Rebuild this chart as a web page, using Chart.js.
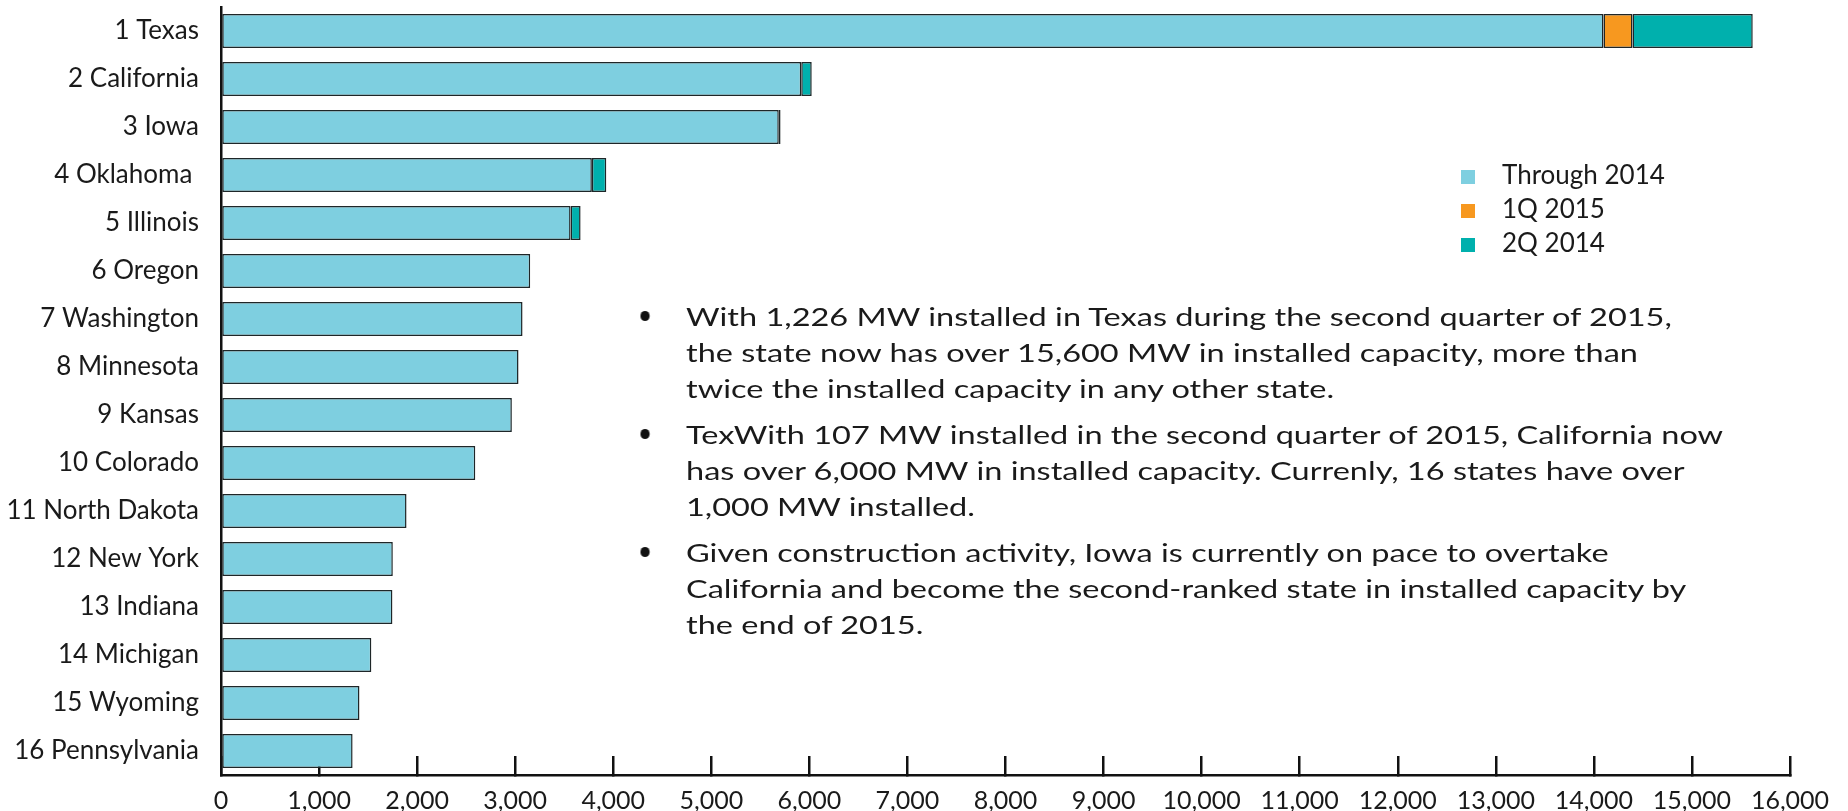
<!DOCTYPE html>
<html>
<head>
<meta charset="utf-8">
<title>Installed wind capacity by state</title>
<script src="https://cdn.jsdelivr.net/npm/chart.js@4/dist/chart.umd.min.js"></script>
<style>
  body { margin: 0; background: #fff; }
  #wrap { position: relative; width: 1848px; height: 811px; font-family: Lato, sans-serif; color: #1a1a1a; }
  #legend { position: absolute; left: 1461px; top: 157px; font-size: 26px; }
  #legend div { height: 34px; line-height: 34px; white-space: nowrap; }
  #legend span.box { display: inline-block; width: 14px; height: 14px; margin-right: 27px; vertical-align: 0px; }
  /* the note text in the source is a bit stretched sideways, so scale it the same way */
  #notes { position: absolute; left: 686px; top: 298px; font-size: 25px; line-height: 36px; white-space: nowrap;
           transform: scaleX(1.3); transform-origin: 0 0; }
  #notes p { margin: 0 0 10px 0; position: relative; }
  #notes p::before { content: ""; position: absolute; left: -35.5px; top: 13px; width: 7.7px; height: 10px; border-radius: 50%; background: #111; }
</style>
</head>
<body>
<div id="wrap">
  <canvas id="chart" width="1848" height="811"></canvas>
  <div id="legend"></div>
  <div id="notes">
    <p>With 1,226 MW installed in Texas during the second quarter of 2015,<br>the state now has over 15,600 MW in installed capacity, more than<br>twice the installed capacity in any other state.</p>
    <p>TexWith 107 MW installed in the second quarter of 2015, California now<br>has over 6,000 MW in installed capacity. Currenly, 16 states have over<br>1,000 MW installed.</p>
    <p>Given construction activity, Iowa is currently on pace to overtake<br>California and become the second-ranked state in installed capacity by<br>the end of 2015.</p>
  </div>
</div>
<script>
// states, ranked by installed capacity (MW)
const states = ['1 Texas', '2 California', '3 Iowa', '4 Oklahoma ', '5 Illinois', '6 Oregon',
  '7 Washington', '8 Minnesota', '9 Kansas', '10 Colorado', '11 North Dakota', '12 New York',
  '13 Indiana', '14 Michigan', '15 Wyoming', '16 Pennsylvania'];

const through2014 = [14098, 5917, 5688, 3782, 3565, 3153, 3075, 3034, 2966, 2593, 1892, 1752, 1748, 1533, 1412, 1342];
const q1_2015 = [296, 0, 0, 0, 0, 0, 0, 0, 0, 0, 0, 0, 0, 0, 0, 0];
const q2_2015 = [1226, 107, 18, 147, 102, 0, 0, 0, 0, 0, 0, 0, 0, 0, 0, 0];

const seriesNames = ['Through 2014', '1Q 2015', '2Q 2014'];
const seriesColors = ['#7ecfe0', '#f7981f', '#00b0ad'];

const xMax = 16000;
const xStep = 1000;

const ink = '#1a1a1a';

const datasets = [through2014, q1_2015, q2_2015].map((vals, i) => ({
  label: seriesNames[i],
  data: vals,
  backgroundColor: seriesColors[i],
  borderColor: '#1e2628',
  borderWidth: 1.5,
  borderSkipped: false,
  barPercentage: 0.71,
  categoryPercentage: 1
}));

// scale paddings would push the plot area around, keep it where the layout says
function noPad(s) {
  s.paddingTop = 0;
  s.paddingBottom = 0;
  s.paddingLeft = 0;
  s.paddingRight = 0;
}

const ctx = document.getElementById('chart').getContext('2d');

let chart = new Chart(ctx, {
  type: 'bar',
  data: { labels: states, datasets: datasets },
  options: {
    indexAxis: 'y',
    responsive: false,
    animation: false,
    layout: { padding: { top: 7, right: 58, left: 0, bottom: 0 } },
    plugins: {
      legend: { display: false },
      tooltip: { enabled: false }
    },
    scales: {
      y: {
        stacked: true,
        grid: { display: false },
        border: { display: true, color: '#111', width: 2.5 },
        ticks: { padding: 14, color: ink, font: { family: 'Lato', size: 26 } },
        afterFit: s => { s.width = 221; noPad(s); }
      },
      x: {
        stacked: true,
        min: 0,
        max: xMax,
        grid: { drawOnChartArea: false, drawTicks: true, tickLength: -19, color: '#111', lineWidth: 2.5 },
        border: { display: true, color: '#111', width: 2.5 },
        ticks: {
          stepSize: xStep,
          padding: 30,
          color: ink,
          font: { family: 'Lato', size: 25 },
          callback: v => v.toLocaleString('en-US')
        },
        afterFit: s => { s.height = 36; noPad(s); }
      }
    }
  }
});

// html legend, built from the datasets
const legend = document.getElementById('legend');
chart.data.datasets.forEach(ds => {
  const row = document.createElement('div');
  row.innerHTML = `<span class="box" style="background:${ds.backgroundColor}"></span>${ds.label}`;
  legend.appendChild(row);
});
</script>
</body>
</html>
